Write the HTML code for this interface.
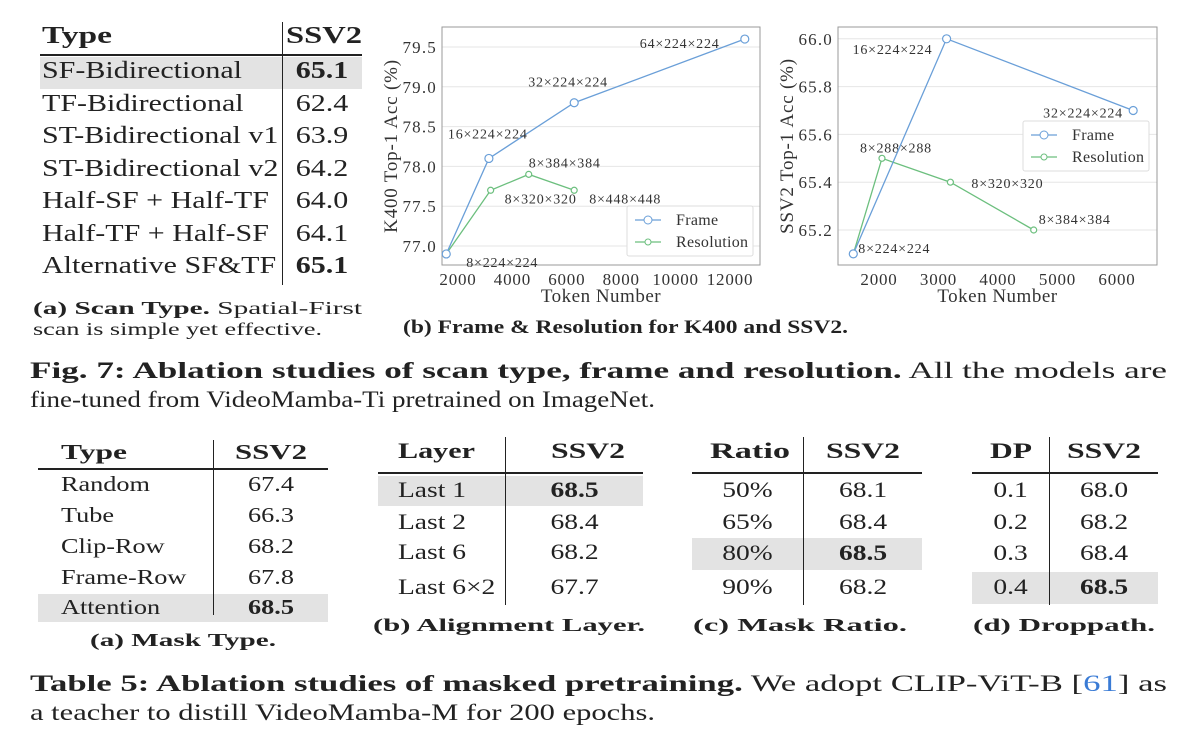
<!DOCTYPE html>
<html><head><meta charset="utf-8"><style>
body{margin:0;width:1198px;height:754px;background:#fff;position:relative;overflow:hidden;font-family:"Liberation Serif",serif;color:#222}
.a{position:absolute;white-space:nowrap}
.hl{position:absolute;background:#e3e3e3}
.ln{position:absolute;background:#222}
.t{font-size:24px}
.b{font-weight:bold}
.c{text-align:center}
</style></head><body>
<!-- Top table -->
<div>
<div class="hl" style="left:40px;top:57px;width:322px;height:32px"></div>
<div class="ln" style="left:40px;top:54px;width:322px;height:2px"></div>
<div class="ln" style="left:282px;top:22px;width:1px;height:263px"></div>
<div class="a t b" data-w="70" style="left:42px;top:23px">Type</div>
<div class="a t b" data-w="76" style="left:286px;top:23px">SSV2</div>
<div class="a t k" style="left:42px;top:58px">SF-Bidirectional</div><div class="a t b c k" style="left:284px;width:76px;top:58px">65.1</div>
<div class="a t k" style="left:42px;top:91px">TF-Bidirectional</div><div class="a t c k" style="left:284px;width:76px;top:91px">62.4</div>
<div class="a t k" style="left:42px;top:123px">ST-Bidirectional v1</div><div class="a t c k" style="left:284px;width:76px;top:123px">63.9</div>
<div class="a t k" style="left:42px;top:156px">ST-Bidirectional v2</div><div class="a t c k" style="left:284px;width:76px;top:156px">64.2</div>
<div class="a t k" style="left:42px;top:188px">Half-SF + Half-TF</div><div class="a t c k" style="left:284px;width:76px;top:188px">64.0</div>
<div class="a t k" style="left:42px;top:221px">Half-TF + Half-SF</div><div class="a t c k" style="left:284px;width:76px;top:221px">64.1</div>
<div class="a t k" style="left:42px;top:253px">Alternative SF&amp;TF</div><div class="a t b c k" style="left:284px;width:76px;top:253px">65.1</div>
</div>
<div class="a" data-w="329" style="left:33px;top:298px;font-size:18px"><b>(a) Scan Type.</b> Spatial-First</div>
<div class="a" data-w="289" style="left:33px;top:319px;font-size:18px">scan is simple yet effective.</div>
<div class="a b" data-w="445" style="left:403px;top:317px;font-size:19px">(b) Frame &amp; Resolution for K400 and SSV2.</div>
<div class="a" data-w="1137" style="left:30px;top:358px;font-size:23px"><b>Fig. 7: Ablation studies of scan type, frame and resolution.</b> All the models are</div>
<div class="a" data-w="625" style="left:30px;top:387px;font-size:23px">fine-tuned from VideoMamba-Ti pretrained on ImageNet.</div>

<svg id="charts" width="1198" height="340" style="position:absolute;left:0;top:0"></svg>

<!-- Bottom tables -->
<div style="font-size:21px">
<div class="hl" style="left:38px;top:594px;width:290px;height:28px"></div>
<div class="ln" style="left:38px;top:468px;width:290px;height:2px"></div>
<div class="ln" style="left:213px;top:440px;width:1px;height:175px"></div>
<div class="a b" data-w="66" style="left:61px;top:440px">Type</div><div class="a b" data-w="72" style="left:235px;top:440px">SSV2</div>
<div class="a k" style="left:61px;top:472px">Random</div><div class="a c k" style="left:214px;width:114px;top:472px">67.4</div>
<div class="a k" style="left:61px;top:503px">Tube</div><div class="a c k" style="left:214px;width:114px;top:503px">66.3</div>
<div class="a k" style="left:61px;top:534px">Clip-Row</div><div class="a c k" style="left:214px;width:114px;top:534px">68.2</div>
<div class="a k" style="left:61px;top:565px">Frame-Row</div><div class="a c k" style="left:214px;width:114px;top:565px">67.8</div>
<div class="a k" style="left:61px;top:595px">Attention</div><div class="a b c k" style="left:214px;width:114px;top:595px">68.5</div>
<div class="a b" data-w="186" style="left:90px;top:630px;font-size:18px">(a) Mask Type.</div>
</div>
<div style="font-size:22px">
<div class="hl" style="left:378px;top:476px;width:265px;height:30px"></div>
<div class="ln" style="left:378px;top:472px;width:265px;height:2px"></div>
<div class="ln" style="left:505px;top:437px;width:1px;height:168px"></div>
<div class="a b" data-w="77" style="left:398px;top:438px">Layer</div><div class="a b" data-w="74" style="left:551px;top:438px">SSV2</div>
<div class="a k" style="left:398px;top:477px">Last 1</div><div class="a b c k" style="left:506px;width:137px;top:477px">68.5</div>
<div class="a k" style="left:398px;top:509px">Last 2</div><div class="a c k" style="left:506px;width:137px;top:509px">68.4</div>
<div class="a k" style="left:398px;top:539px">Last 6</div><div class="a c k" style="left:506px;width:137px;top:539px">68.2</div>
<div class="a k" style="left:398px;top:574px">Last 6×2</div><div class="a c k" style="left:506px;width:137px;top:574px">67.7</div>
<div class="a b" data-w="272" style="left:373px;top:615px;font-size:18px">(b) Alignment Layer.</div>
</div>
<div style="font-size:22px">
<div class="hl" style="left:692px;top:538px;width:230px;height:32px"></div>
<div class="ln" style="left:692px;top:472px;width:230px;height:2px"></div>
<div class="ln" style="left:803px;top:437px;width:1px;height:168px"></div>
<div class="a b" data-w="80" style="left:710px;top:438px">Ratio</div><div class="a b" data-w="74" style="left:826px;top:438px">SSV2</div>
<div class="a c k" style="left:692px;width:111px;top:477px">50%</div><div class="a c k" style="left:804px;width:118px;top:477px">68.1</div>
<div class="a c k" style="left:692px;width:111px;top:509px">65%</div><div class="a c k" style="left:804px;width:118px;top:509px">68.4</div>
<div class="a c k" style="left:692px;width:111px;top:540px">80%</div><div class="a b c k" style="left:804px;width:118px;top:540px">68.5</div>
<div class="a c k" style="left:692px;width:111px;top:574px">90%</div><div class="a c k" style="left:804px;width:118px;top:574px">68.2</div>
<div class="a b" data-w="214" style="left:693px;top:615px;font-size:18px">(c) Mask Ratio.</div>
</div>
<div style="font-size:22px">
<div class="hl" style="left:972px;top:572px;width:186px;height:32px"></div>
<div class="ln" style="left:972px;top:472px;width:186px;height:2px"></div>
<div class="ln" style="left:1049px;top:437px;width:1px;height:168px"></div>
<div class="a b" data-w="42" style="left:990px;top:438px">DP</div><div class="a b" data-w="74" style="left:1067px;top:438px">SSV2</div>
<div class="a c k" style="left:972px;width:77px;top:477px">0.1</div><div class="a c k" style="left:1050px;width:108px;top:477px">68.0</div>
<div class="a c k" style="left:972px;width:77px;top:509px">0.2</div><div class="a c k" style="left:1050px;width:108px;top:509px">68.2</div>
<div class="a c k" style="left:972px;width:77px;top:540px">0.3</div><div class="a c k" style="left:1050px;width:108px;top:540px">68.4</div>
<div class="a c k" style="left:972px;width:77px;top:574px">0.4</div><div class="a b c k" style="left:1050px;width:108px;top:574px">68.5</div>
<div class="a b" data-w="182" style="left:973px;top:615px;font-size:18px">(d) Droppath.</div>
</div>
<div class="a" data-w="1137" style="left:30px;top:671px;font-size:23px"><b>Table 5: Ablation studies of masked pretraining.</b> We adopt CLIP-ViT-B [<span style="color:#3a7bd5">61</span>] as</div>
<div class="a" data-w="625" style="left:30px;top:700px;font-size:23px">a teacher to distill VideoMamba-M for 200 epochs.</div>

<script>
// Chart 1 (K400)
const k400FrameX = [1568, 3136, 6272, 12544];
const k400FrameY = [76.9, 78.1, 78.8, 79.6];
const k400FrameLabels = ["8×224×224", "16×224×224", "32×224×224", "64×224×224"];
const k400ResX = [1568, 3200, 4600, 6272];
const k400ResY = [76.9, 77.7, 77.9, 77.7];
const k400ResLabels = ["", "8×320×320", "8×384×384", "8×448×448"];
const k400XTicks = [2000, 4000, 6000, 8000, 10000, 12000];
const k400YTicks = [77.0, 77.5, 78.0, 78.5, 79.0, 79.5];
// Chart 2 (SSV2)
const ssv2FrameX = [1568, 3136, 6272];
const ssv2FrameY = [65.1, 66.0, 65.7];
const ssv2FrameLabels = ["8×224×224", "16×224×224", "32×224×224"];
const ssv2ResX = [1568, 2050, 3200, 4600];
const ssv2ResY = [65.1, 65.5, 65.4, 65.2];
const ssv2ResLabels = ["", "8×288×288", "8×320×320", "8×384×384"];
const ssv2XTicks = [2000, 3000, 4000, 5000, 6000];
const ssv2YTicks = [65.2, 65.4, 65.6, 65.8, 66.0];

const NS = "http://www.w3.org/2000/svg";
const svg = document.getElementById('charts');
function mk(tag, attrs, parent){const e=document.createElementNS(NS,tag);for(const k in attrs)e.setAttribute(k,attrs[k]);(parent||svg).appendChild(e);return e;}
function txt(s,x,y,size,anchor,parent,ls){const e=mk('text',{x:x,y:y,'font-size':size,'text-anchor':anchor||'start','font-family':'Liberation Serif, serif',fill:'#333','letter-spacing':ls||0},parent);e.textContent=s;return e;}

function chart(cfg){
  const g=mk('g',{});
  
  
  const sx=v=>cfg.x0+(v-cfg.vx0)*cfg.kx;
  const sy=v=>cfg.y0-(v-cfg.vy0)*cfg.ky;
  cfg.yt.forEach(v=>{
    const l=mk('line',{x1:cfg.L,x2:cfg.R,y1:sy(v),y2:sy(v),stroke:'#e6e6e6','stroke-width':1},g);
    
    
    const t=txt(v.toFixed(1),cfg.L-5,sy(v)+6,17,'end',g,1.2);
    
    
  });
  cfg.xt.forEach(v=>{
    const t=txt(String(v),sx(v),cfg.B+20,17,'middle',g,0.8);
    
    
  });
  const box=mk('rect',{x:cfg.L,y:cfg.T,width:cfg.R-cfg.L,height:cfg.B-cfg.T,fill:'none',stroke:'#999','stroke-width':1},g);
  
  
  const xt=txt('Token Number',(cfg.L+cfg.R)/2,cfg.B+37,19,'middle',g,0.5);
  
  
  const yt=txt(cfg.ytitle,0,0,19,'middle',g,0.8);
  yt.setAttribute('transform','translate('+(cfg.L-45)+','+((cfg.T+cfg.B)/2)+') rotate(-90)');
  
  
  [[cfg.rx,cfg.ry,'#6cbf7e',3,cfg.rl,cfg.roff,'resolution'],[cfg.fx,cfg.fy,'#6a9fd8',4,cfg.fl,cfg.foff,'frame']].forEach(s=>{
    const pts=s[0].map((v,i)=>sx(v)+','+sy(s[1][i])).join(' ');
    const pl=mk('polyline',{points:pts,fill:'none',stroke:s[2],'stroke-width':1.3},g);
    
    
    s[0].forEach((v,i)=>{
      const c=mk('circle',{cx:sx(v),cy:sy(s[1][i]),r:s[3],fill:'#fff',stroke:s[2],'stroke-width':1.2},g);
      
      
      if(s[4][i]){
        const t=txt(s[4][i],sx(v)+s[5][i][0],sy(s[1][i])+s[5][i][1],14,'start',g,0.8);
        
        
      }
    });
  });
  const lg=mk('g',{},g);
  
  
  mk('rect',{x:cfg.lx,y:cfg.ly,width:126,height:50,fill:'#fff',stroke:'#ddd',rx:2},lg);
  [['Frame','#6a9fd8',4],['Resolution','#6cbf7e',3]].forEach((e,i)=>{
    const y=cfg.ly+14+i*22;
    mk('line',{x1:cfg.lx+8,x2:cfg.lx+34,y1:y,y2:y,stroke:e[1],'stroke-width':1.3},lg);
    mk('circle',{cx:cfg.lx+21,cy:y,r:e[2],fill:'#fff',stroke:e[1]},lg);
    const t=txt(e[0],cfg.lx+49,y+5,16,'start',lg,0.3);
    
    
  });
}
chart({name:'k400-chart',L:442,R:760,T:27,B:265,x0:458,vx0:2000,kx:0.0272,y0:246,vy0:77.0,ky:79.6,
  xt:k400XTicks,yt:k400YTicks,ytitle:'K400 Top-1 Acc (%)',
  fx:k400FrameX,fy:k400FrameY,fl:k400FrameLabels,foff:[[20,13],[-41,-20],[-46,-16],[-105,9]],
  rx:k400ResX,ry:k400ResY,rl:k400ResLabels,roff:[[0,0],[14,13],[0,-7],[15,13]],
  lx:627,ly:206});
chart({name:'ssv2-chart',L:838,R:1157,T:27,B:265,x0:879,vx0:2000,kx:0.0595,y0:230,vy0:65.2,ky:239,
  xt:ssv2XTicks,yt:ssv2YTicks,ytitle:'SSV2 Top-1 Acc (%)',
  fx:ssv2FrameX,fy:ssv2FrameY,fl:ssv2FrameLabels,foff:[[5,-1],[-94,15],[-90,7]],
  rx:ssv2ResX,ry:ssv2ResY,rl:ssv2ResLabels,roff:[[0,0],[-22,-6],[21,6],[5,-6]],
  lx:1023,ly:121});

// widen serif text horizontally to approximate Computer Modern metrics
function natW(e){const r=document.createRange();r.selectNodeContents(e);return r.getBoundingClientRect().width;}
document.querySelectorAll('[data-w]').forEach(e=>{
  const s=(+e.getAttribute('data-w'))/natW(e);
  e.style.transformOrigin='0 50%';
  e.style.transform='scaleX('+s+')';
});
document.querySelectorAll('.k').forEach(e=>{
  e.style.transformOrigin=e.classList.contains('c')?'50% 50%':'0 50%';
  e.style.transform='scaleX(1.25)';
});
</script>
</body></html>
